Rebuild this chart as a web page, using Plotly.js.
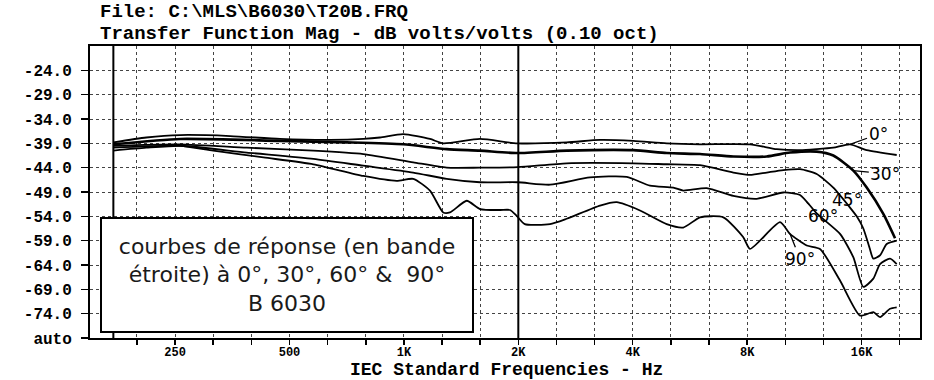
<!DOCTYPE html>
<html>
<head>
<meta charset="utf-8">
<script src="https://cdn.plot.ly/plotly-3.0.1.min.js"></script>
<style>html,body{margin:0;padding:0;background:#fff;}#chart{width:934px;height:380px;}</style>
</head>
<body>
<div id="chart"></div>
<script>
// ---- data (frequency in Hz, level in dB) ----
const freq0 = [172, 210, 258, 349, 472, 639, 782, 865, 996, 1171, 1269, 1586, 1990, 2681, 3281, 4014, 4914, 6013, 8140, 9570, 11020, 12194, 13484, 14920, 16510, 19800];
const db0   = [-38.8, -37.8, -37.3, -37.5, -38.1, -38.3, -38.1, -37.8, -37.1, -38.1, -39.0, -38.1, -39.0, -38.8, -38.3, -38.5, -39.0, -39.2, -39.2, -40.2, -40.4, -40.2, -39.9, -39.2, -40.4, -41.4];

const freq30 = [172, 258, 472, 707, 996, 1296, 1586, 1990, 2681, 4014, 4914, 6013, 7358, 9008, 10372, 12194, 13484, 15222, 16510, 18256, 19600];
const db30   = [-39.2, -38.1, -38.5, -38.8, -39.2, -40.2, -40.5, -41.0, -40.5, -40.4, -41.0, -41.2, -41.7, -41.7, -40.9, -40.7, -41.5, -44.6, -48.1, -53.5, -58.5];

const freq45 = [172, 258, 386, 578, 782, 1058, 1296, 1586, 1990, 2681, 4014, 4914, 6013, 7358, 8140, 9008, 9960, 11020, 12194, 13484, 14920, 15538, 16174, 16800, 17184, 17896, 18636, 19800];
const db45   = [-39.5, -39.2, -39.9, -40.5, -41.2, -42.9, -44.0, -44.0, -43.9, -43.1, -43.1, -43.3, -43.5, -45.0, -45.5, -45.0, -44.5, -44.3, -45.3, -48.1, -52.2, -54.0, -56.5, -60.5, -62.7, -62.0, -59.7, -59.0];

const freq60 = [172, 258, 386, 578, 782, 1058, 1296, 1586, 1990, 2423, 3088, 3857, 4441, 5115, 5434, 6263, 7358, 8478, 9960, 11020, 12194, 14044, 15222, 16174, 17184, 17896, 19012, 19800];
const db60   = [-39.9, -39.5, -40.9, -42.2, -43.6, -45.0, -46.3, -47.0, -47.0, -47.5, -46.0, -45.9, -47.7, -48.1, -48.7, -48.2, -49.8, -50.4, -49.1, -49.6, -53.4, -57.6, -62.4, -68.5, -66.8, -63.8, -62.7, -63.8];

const freq90 = [172, 210, 258, 315, 427, 578, 782, 957, 1058, 1171, 1269, 1322, 1463, 1586, 1790, 1902, 1980, 2080, 2423, 2681, 3281, 3630, 4180, 4914, 5434, 6013, 6925, 7816, 8140, 9764, 10372, 11478, 12440, 14044, 15854, 17184, 17896, 19012, 19800];
const db90   = [-40.5, -39.9, -39.5, -40.5, -41.9, -43.3, -45.7, -46.7, -46.3, -48.7, -53.2, -53.2, -50.8, -52.5, -52.7, -52.7, -53.9, -55.6, -55.6, -54.5, -51.8, -51.1, -52.8, -55.6, -56.3, -54.2, -54.2, -58.3, -60.7, -55.2, -57.6, -60.0, -60.7, -67.2, -74.4, -73.7, -74.7, -73.0, -72.7];

// markers drawn as solid vertical lines (Hz)
const markerFreqs = [172, 2000];

// axis ticks
const xGrid = [198.4, 250, 315, 396.9, 500, 630, 793.7, 1000, 1260, 1587, 2000, 2520, 3175, 4000, 5040, 6350, 8000, 10079, 12699, 16000, 20159];
const xLabelMap = {250: '250', 500: '500', 1000: '1K', 2000: '2K', 4000: '4K', 8000: '8K', 16000: '16K'};
const yTicks = [-79, -74, -69, -64, -59, -54, -49, -44, -39, -34, -29, -24];
const yTickText = ['auto', '-74.0', '-69.0', '-64.0', '-59.0', '-54.0', '-49.0', '-44.0', '-39.0', '-34.0', '-29.0', '-24.0'];

const curveLabels = [
  {name: '0°',  f: 14920, db: -39.2, ax: 28, ay: -10},
  {name: '30°', f: 15222, db: -44.6, ax: 32, ay: 3},
  {name: '45°', f: 13484, db: -48.1, ax: 14, ay: 12},
  {name: '60°', f: 11478, db: -51.1, ax: 16, ay: 14},
  {name: '90°', f: 10372, db: -57.6, ax: 10, ay: 25}
];

const Y_MIN = -79, Y_MAX = -19;

const series = [
  [freq0, db0, 1.8], [freq30, db30, 2.6], [freq45, db45, 1.8], [freq60, db60, 1.8], [freq90, db90, 1.8]
];

const traces = [];
markerFreqs.forEach(f => {
  traces.push({x: [f, f], y: [Y_MIN, Y_MAX], mode: 'lines', line: {color: '#000', width: 2}, hoverinfo: 'skip', showlegend: false});
});
series.forEach(s => {
  traces.push({x: s[0], y: s[1], mode: 'lines', line: {color: '#000', width: s[2], shape: 'spline', smoothing: 0.6}, showlegend: false});
});

const monoFam = 'Liberation Mono, DejaVu Sans Mono, monospace';

const annotations = [
  {xref: 'paper', yref: 'paper', x: (98 - 90) / 830, y: (338 - 12.5) / 292, xanchor: 'left', yanchor: 'middle', showarrow: false,
   text: 'File: C:\\MLS\\B6030\\T20B.FRQ', font: {family: monoFam, weight: 700, size: 19, color: '#000'}},
  {xref: 'paper', yref: 'paper', x: (98 - 90) / 830, y: (338 - 34) / 292, xanchor: 'left', yanchor: 'middle', showarrow: false,
   text: 'Transfer Function Mag - dB volts/volts (0.10 oct)', font: {family: monoFam, weight: 700, size: 19, color: '#000'}},
  {xref: 'paper', yref: 'paper', x: (507 - 90) / 830, y: (338 - 369.5) / 292, xanchor: 'center', yanchor: 'middle', showarrow: false,
   text: 'IEC Standard Frequencies - Hz', font: {family: monoFam, weight: 700, size: 18, color: '#000'}},
  {xref: 'paper', yref: 'paper', x: (287 - 90) / 830, y: (338 - 275) / 292, xanchor: 'center', yanchor: 'middle', showarrow: false,
   width: 370, height: 112, bgcolor: '#fff', bordercolor: '#000', borderwidth: 2, borderpad: 0,
   text: 'courbes de réponse (en bande<br>étroite) à 0°, 30°, 60° &amp;  90°<br>B 6030',
   font: {family: 'DejaVu Sans, sans-serif', size: 22, color: '#1a1a1a'}}
];
curveLabels.forEach(c => {
  annotations.push({x: Math.log10(c.f), y: c.db, xref: 'x', yref: 'y', text: c.name, showarrow: true, arrowhead: 0, arrowwidth: 1.3,
    arrowcolor: '#000', ax: c.ax, ay: c.ay, standoff: 0, font: {family: 'DejaVu Sans, sans-serif', size: 17, color: '#000'}});
});

const layout = {
  width: 934, height: 380,
  margin: {l: 90, r: 14, t: 46, b: 42, pad: 0},
  paper_bgcolor: '#fff', plot_bgcolor: '#fff',
  showlegend: false,
  xaxis: {
    type: 'log', range: [Math.log10(149.3), Math.log10(22800)],
    tickvals: xGrid, ticktext: xGrid.map(v => xLabelMap[v] || ''),
    ticks: 'outside', ticklen: 5, tickwidth: 1.5, tickcolor: '#000', ticklabelstandoff: -3,
    showgrid: true, gridcolor: '#444', griddash: 'dot', gridwidth: 1,
    showline: true, linecolor: '#000', linewidth: 2, mirror: true, zeroline: false,
    tickfont: {family: monoFam, weight: 700, size: 12, color: '#000'}
  },
  yaxis: {
    range: [Y_MIN, Y_MAX],
    tickvals: yTicks, ticktext: yTickText,
    ticks: 'outside', ticklen: 7, tickwidth: 1.5, tickcolor: '#000', ticklabelstandoff: 6,
    showgrid: true, gridcolor: '#444', griddash: 'dot', gridwidth: 1,
    showline: true, linecolor: '#000', linewidth: 2, mirror: true, zeroline: false,
    tickfont: {family: monoFam, weight: 700, size: 16, color: '#000'}
  },
  annotations: annotations
};

Plotly.newPlot('chart', traces, layout, {staticPlot: true, displayModeBar: false});
</script>
</body>
</html>
